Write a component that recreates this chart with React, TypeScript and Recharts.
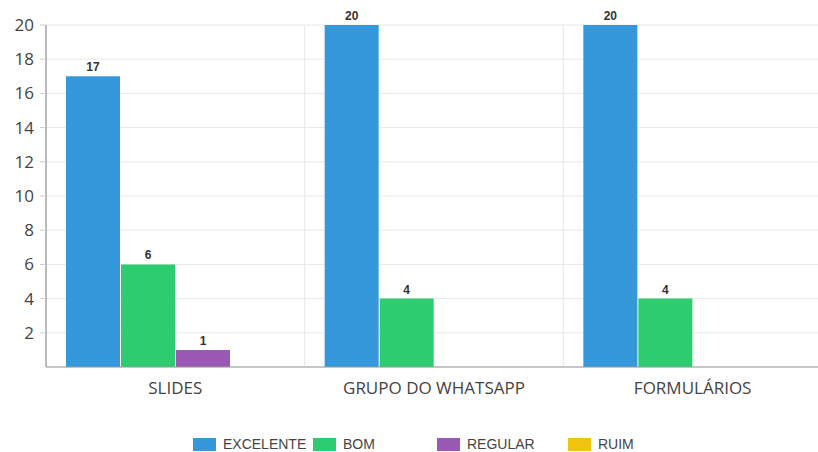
import React from "react";
import {
  BarChart,
  Bar,
  XAxis,
  YAxis,
  CartesianGrid,
  LabelList,
} from "recharts";

const categories = ["SLIDES", "GRUPO DO WHATSAPP", "FORMULÁRIOS"];
const excelente = [17, 20, 20];
const bom = [6, 4, 4];
const regular = [1, 0, 0];
const ruim = [0, 0, 0];
const yTicks = [2, 4, 6, 8, 10, 12, 14, 16, 18, 20];

const series = [
  { key: "EXCELENTE", color: "#3498db" },
  { key: "BOM", color: "#2ecc71" },
  { key: "REGULAR", color: "#9b59b6" },
  { key: "RUIM", color: "#f1c40f" },
];

const data = categories.map((name, i) => ({
  name,
  EXCELENTE: excelente[i],
  BOM: bom[i],
  REGULAR: regular[i],
  RUIM: ruim[i],
}));

const FONT = "'Open Sans', 'DejaVu Sans', sans-serif";

function ValueLabel(props: any) {
  const { x, y, width, value } = props;
  if (!value) return null;
  return (
    <text
      x={x + width / 2}
      y={y - 5}
      textAnchor="middle"
      fontSize={12}
      fontWeight="bold"
      fontFamily="Arial, 'Liberation Sans', sans-serif"
      fill="#333"
    >
      {value}
    </text>
  );
}

// legend items are not evenly spaced in the original
const legendWidths = [120, 124, 131, 80];

function ChartLegend() {
  return (
    <div
      style={{
        position: "absolute",
        left: 193,
        top: 436,
        display: "flex",
        fontFamily: "Arial, 'Liberation Sans', sans-serif",
        fontSize: 14,
        color: "#444",
      }}
    >
      {series.map((s, i) => (
        <div
          key={s.key}
          style={{ width: legendWidths[i], display: "flex", alignItems: "center" }}
        >
          <span
            style={{
              display: "inline-block",
              width: 23,
              height: 13,
              background: s.color,
              marginRight: 7,
            }}
          />
          {s.key}
        </div>
      ))}
    </div>
  );
}

export default function App() {
  return (
    <div style={{ position: "absolute", left: 0, top: 0, width: 818, height: 452, background: "#fff" }}>
      <BarChart
        width={818}
        height={400}
        data={data}
        margin={{ top: 25, right: -4, left: 0, bottom: 0 }}
        barSize={54}
        barGap={1}
      >
        <CartesianGrid
          stroke="#e8e8e8"
          verticalCoordinatesGenerator={({ offset }: any) =>
            [1, 2].map((i) => offset.left + (offset.width * i) / categories.length)
          }
        />
        <XAxis
          dataKey="name"
          height={33}
          tickLine={false}
          axisLine={{ stroke: "#999" }}
          tick={{ fontSize: 17, fill: "#444", fontFamily: FONT }}
          tickMargin={9}
          interval={0}
        />
        <YAxis
          width={46}
          domain={[0, 20]}
          ticks={yTicks}
          axisLine={{ stroke: "#777" }}
          tickLine={{ stroke: "#ccc" }}
          tickSize={6}
          tickMargin={6}
          tick={{ fontSize: 17, fill: "#444", fontFamily: FONT }}
        />
        {series.map((s) => (
          <Bar key={s.key} dataKey={s.key} fill={s.color} isAnimationActive={false}>
            <LabelList dataKey={s.key} content={<ValueLabel />} />
          </Bar>
        ))}
      </BarChart>
      <ChartLegend />
    </div>
  );
}
